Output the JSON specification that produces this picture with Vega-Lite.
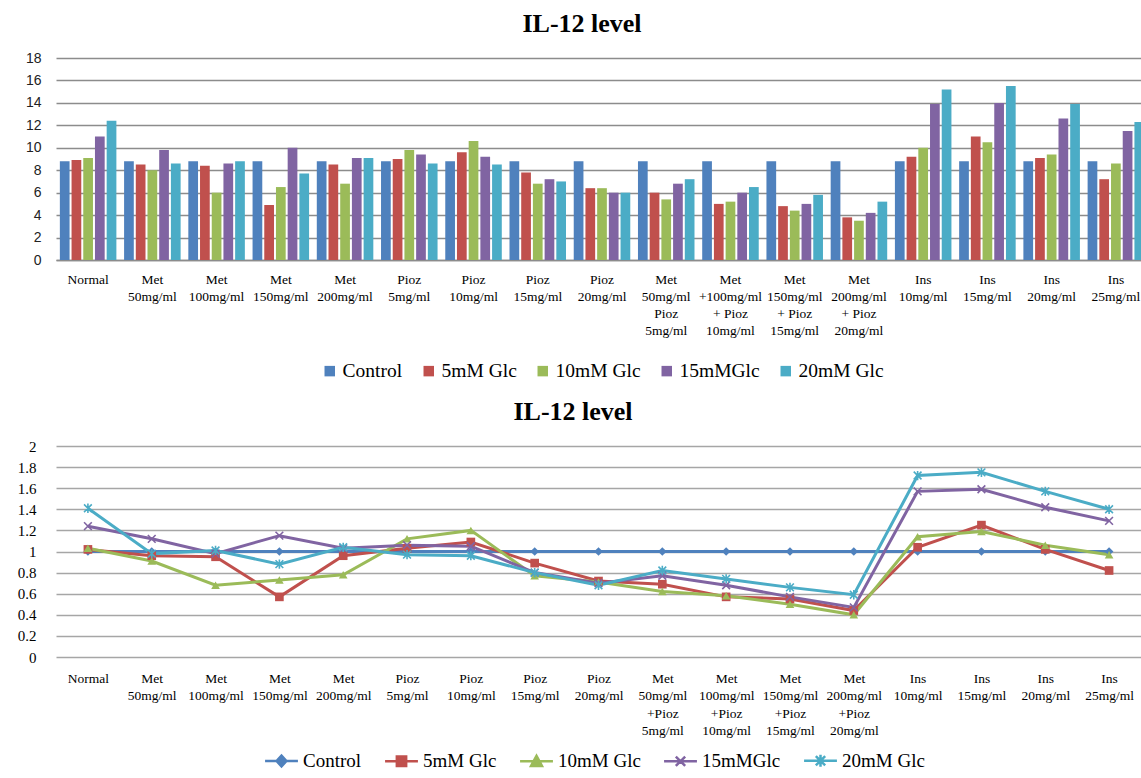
{
  "$schema": "https://vega.github.io/schema/vega-lite/v6.json",
  "padding": {"left": 5, "top": 11, "right": 0, "bottom": 0},
  "background": "white",
  "spacing": 18,
  "config": {
    "view": {"stroke": null},
    "font": "Liberation Serif",
    "title": {"font": "Liberation Serif", "fontSize": 26, "fontWeight": "bold", "color": "black"},
    "legend": {"layout": {"bottom": {"anchor": "middle"}}}
  },
  "resolve": {
    "scale": {"x": "independent", "y": "independent", "color": "independent", "stroke": "independent"},
    "legend": {"color": "independent", "stroke": "independent"}
  },
  "datasets": {
    "bars": [
      {"g": "Normal", "s": "Control", "v": 8.8}, {"g": "Normal", "s": "5mM Glc", "v": 8.9}, {"g": "Normal", "s": "10mM Glc", "v": 9.1}, {"g": "Normal", "s": "15mMGlc", "v": 11.0}, {"g": "Normal", "s": "20mM Glc", "v": 12.4},
      {"g": "Met|50mg/ml", "s": "Control", "v": 8.8}, {"g": "Met|50mg/ml", "s": "5mM Glc", "v": 8.5}, {"g": "Met|50mg/ml", "s": "10mM Glc", "v": 8.0}, {"g": "Met|50mg/ml", "s": "15mMGlc", "v": 9.8}, {"g": "Met|50mg/ml", "s": "20mM Glc", "v": 8.6},
      {"g": "Met|100mg/ml", "s": "Control", "v": 8.8}, {"g": "Met|100mg/ml", "s": "5mM Glc", "v": 8.4}, {"g": "Met|100mg/ml", "s": "10mM Glc", "v": 6.0}, {"g": "Met|100mg/ml", "s": "15mMGlc", "v": 8.6}, {"g": "Met|100mg/ml", "s": "20mM Glc", "v": 8.8},
      {"g": "Met|150mg/ml", "s": "Control", "v": 8.8}, {"g": "Met|150mg/ml", "s": "5mM Glc", "v": 4.9}, {"g": "Met|150mg/ml", "s": "10mM Glc", "v": 6.5}, {"g": "Met|150mg/ml", "s": "15mMGlc", "v": 10.0}, {"g": "Met|150mg/ml", "s": "20mM Glc", "v": 7.7},
      {"g": "Met|200mg/ml", "s": "Control", "v": 8.8}, {"g": "Met|200mg/ml", "s": "5mM Glc", "v": 8.5}, {"g": "Met|200mg/ml", "s": "10mM Glc", "v": 6.8}, {"g": "Met|200mg/ml", "s": "15mMGlc", "v": 9.1}, {"g": "Met|200mg/ml", "s": "20mM Glc", "v": 9.1},
      {"g": "Pioz|5mg/ml", "s": "Control", "v": 8.8}, {"g": "Pioz|5mg/ml", "s": "5mM Glc", "v": 9.0}, {"g": "Pioz|5mg/ml", "s": "10mM Glc", "v": 9.8}, {"g": "Pioz|5mg/ml", "s": "15mMGlc", "v": 9.4}, {"g": "Pioz|5mg/ml", "s": "20mM Glc", "v": 8.6},
      {"g": "Pioz|10mg/ml", "s": "Control", "v": 8.8}, {"g": "Pioz|10mg/ml", "s": "5mM Glc", "v": 9.6}, {"g": "Pioz|10mg/ml", "s": "10mM Glc", "v": 10.6}, {"g": "Pioz|10mg/ml", "s": "15mMGlc", "v": 9.2}, {"g": "Pioz|10mg/ml", "s": "20mM Glc", "v": 8.5},
      {"g": "Pioz|15mg/ml", "s": "Control", "v": 8.8}, {"g": "Pioz|15mg/ml", "s": "5mM Glc", "v": 7.8}, {"g": "Pioz|15mg/ml", "s": "10mM Glc", "v": 6.8}, {"g": "Pioz|15mg/ml", "s": "15mMGlc", "v": 7.2}, {"g": "Pioz|15mg/ml", "s": "20mM Glc", "v": 7.0},
      {"g": "Pioz|20mg/ml", "s": "Control", "v": 8.8}, {"g": "Pioz|20mg/ml", "s": "5mM Glc", "v": 6.4}, {"g": "Pioz|20mg/ml", "s": "10mM Glc", "v": 6.4}, {"g": "Pioz|20mg/ml", "s": "15mMGlc", "v": 6.0}, {"g": "Pioz|20mg/ml", "s": "20mM Glc", "v": 6.0},
      {"g": "Met|50mg/ml|Pioz|5mg/ml", "s": "Control", "v": 8.8}, {"g": "Met|50mg/ml|Pioz|5mg/ml", "s": "5mM Glc", "v": 6.0}, {"g": "Met|50mg/ml|Pioz|5mg/ml", "s": "10mM Glc", "v": 5.4}, {"g": "Met|50mg/ml|Pioz|5mg/ml", "s": "15mMGlc", "v": 6.8}, {"g": "Met|50mg/ml|Pioz|5mg/ml", "s": "20mM Glc", "v": 7.2},
      {"g": "Met|+100mg/ml|+ Pioz|10mg/ml", "s": "Control", "v": 8.8}, {"g": "Met|+100mg/ml|+ Pioz|10mg/ml", "s": "5mM Glc", "v": 5.0}, {"g": "Met|+100mg/ml|+ Pioz|10mg/ml", "s": "10mM Glc", "v": 5.2}, {"g": "Met|+100mg/ml|+ Pioz|10mg/ml", "s": "15mMGlc", "v": 6.0}, {"g": "Met|+100mg/ml|+ Pioz|10mg/ml", "s": "20mM Glc", "v": 6.5},
      {"g": "Met|150mg/ml|+ Pioz|15mg/ml", "s": "Control", "v": 8.8}, {"g": "Met|150mg/ml|+ Pioz|15mg/ml", "s": "5mM Glc", "v": 4.8}, {"g": "Met|150mg/ml|+ Pioz|15mg/ml", "s": "10mM Glc", "v": 4.4}, {"g": "Met|150mg/ml|+ Pioz|15mg/ml", "s": "15mMGlc", "v": 5.0}, {"g": "Met|150mg/ml|+ Pioz|15mg/ml", "s": "20mM Glc", "v": 5.8},
      {"g": "Met|200mg/ml|+ Pioz|20mg/ml", "s": "Control", "v": 8.8}, {"g": "Met|200mg/ml|+ Pioz|20mg/ml", "s": "5mM Glc", "v": 3.8}, {"g": "Met|200mg/ml|+ Pioz|20mg/ml", "s": "10mM Glc", "v": 3.5}, {"g": "Met|200mg/ml|+ Pioz|20mg/ml", "s": "15mMGlc", "v": 4.2}, {"g": "Met|200mg/ml|+ Pioz|20mg/ml", "s": "20mM Glc", "v": 5.2},
      {"g": "Ins|10mg/ml", "s": "Control", "v": 8.8}, {"g": "Ins|10mg/ml", "s": "5mM Glc", "v": 9.2}, {"g": "Ins|10mg/ml", "s": "10mM Glc", "v": 10.0}, {"g": "Ins|10mg/ml", "s": "15mMGlc", "v": 13.9}, {"g": "Ins|10mg/ml", "s": "20mM Glc", "v": 15.2},
      {"g": "Ins|15mg/ml", "s": "Control", "v": 8.8}, {"g": "Ins|15mg/ml", "s": "5mM Glc", "v": 11.0}, {"g": "Ins|15mg/ml", "s": "10mM Glc", "v": 10.5}, {"g": "Ins|15mg/ml", "s": "15mMGlc", "v": 14.0}, {"g": "Ins|15mg/ml", "s": "20mM Glc", "v": 15.5},
      {"g": "Ins|20mg/ml", "s": "Control", "v": 8.8}, {"g": "Ins|20mg/ml", "s": "5mM Glc", "v": 9.1}, {"g": "Ins|20mg/ml", "s": "10mM Glc", "v": 9.4}, {"g": "Ins|20mg/ml", "s": "15mMGlc", "v": 12.6}, {"g": "Ins|20mg/ml", "s": "20mM Glc", "v": 13.9},
      {"g": "Ins|25mg/ml", "s": "Control", "v": 8.8}, {"g": "Ins|25mg/ml", "s": "5mM Glc", "v": 7.2}, {"g": "Ins|25mg/ml", "s": "10mM Glc", "v": 8.6}, {"g": "Ins|25mg/ml", "s": "15mMGlc", "v": 11.5}, {"g": "Ins|25mg/ml", "s": "20mM Glc", "v": 12.3}
    ],
    "lines": [
      {"g": "Normal", "s": "Control", "v": 1.0}, {"g": "Normal", "s": "5mM Glc", "v": 1.02}, {"g": "Normal", "s": "10mM Glc", "v": 1.03}, {"g": "Normal", "s": "15mMGlc", "v": 1.24}, {"g": "Normal", "s": "20mM Glc", "v": 1.41},
      {"g": "Met|50mg/ml", "s": "Control", "v": 1.0}, {"g": "Met|50mg/ml", "s": "5mM Glc", "v": 0.96}, {"g": "Met|50mg/ml", "s": "10mM Glc", "v": 0.91}, {"g": "Met|50mg/ml", "s": "15mMGlc", "v": 1.12}, {"g": "Met|50mg/ml", "s": "20mM Glc", "v": 0.98},
      {"g": "Met|100mg/ml", "s": "Control", "v": 1.0}, {"g": "Met|100mg/ml", "s": "5mM Glc", "v": 0.95}, {"g": "Met|100mg/ml", "s": "10mM Glc", "v": 0.68}, {"g": "Met|100mg/ml", "s": "15mMGlc", "v": 0.98}, {"g": "Met|100mg/ml", "s": "20mM Glc", "v": 1.01},
      {"g": "Met|150mg/ml", "s": "Control", "v": 1.0}, {"g": "Met|150mg/ml", "s": "5mM Glc", "v": 0.57}, {"g": "Met|150mg/ml", "s": "10mM Glc", "v": 0.73}, {"g": "Met|150mg/ml", "s": "15mMGlc", "v": 1.15}, {"g": "Met|150mg/ml", "s": "20mM Glc", "v": 0.88},
      {"g": "Met|200mg/ml", "s": "Control", "v": 1.0}, {"g": "Met|200mg/ml", "s": "5mM Glc", "v": 0.96}, {"g": "Met|200mg/ml", "s": "10mM Glc", "v": 0.78}, {"g": "Met|200mg/ml", "s": "15mMGlc", "v": 1.03}, {"g": "Met|200mg/ml", "s": "20mM Glc", "v": 1.04},
      {"g": "Pioz|5mg/ml", "s": "Control", "v": 1.0}, {"g": "Pioz|5mg/ml", "s": "5mM Glc", "v": 1.03}, {"g": "Pioz|5mg/ml", "s": "10mM Glc", "v": 1.12}, {"g": "Pioz|5mg/ml", "s": "15mMGlc", "v": 1.06}, {"g": "Pioz|5mg/ml", "s": "20mM Glc", "v": 0.97},
      {"g": "Pioz|10mg/ml", "s": "Control", "v": 1.0}, {"g": "Pioz|10mg/ml", "s": "5mM Glc", "v": 1.09}, {"g": "Pioz|10mg/ml", "s": "10mM Glc", "v": 1.2}, {"g": "Pioz|10mg/ml", "s": "15mMGlc", "v": 1.05}, {"g": "Pioz|10mg/ml", "s": "20mM Glc", "v": 0.96},
      {"g": "Pioz|15mg/ml", "s": "Control", "v": 1.0}, {"g": "Pioz|15mg/ml", "s": "5mM Glc", "v": 0.89}, {"g": "Pioz|15mg/ml", "s": "10mM Glc", "v": 0.77}, {"g": "Pioz|15mg/ml", "s": "15mMGlc", "v": 0.8}, {"g": "Pioz|15mg/ml", "s": "20mM Glc", "v": 0.8},
      {"g": "Pioz|20mg/ml", "s": "Control", "v": 1.0}, {"g": "Pioz|20mg/ml", "s": "5mM Glc", "v": 0.72}, {"g": "Pioz|20mg/ml", "s": "10mM Glc", "v": 0.71}, {"g": "Pioz|20mg/ml", "s": "15mMGlc", "v": 0.7}, {"g": "Pioz|20mg/ml", "s": "20mM Glc", "v": 0.68},
      {"g": "Met|50mg/ml|+Pioz|5mg/ml", "s": "Control", "v": 1.0}, {"g": "Met|50mg/ml|+Pioz|5mg/ml", "s": "5mM Glc", "v": 0.69}, {"g": "Met|50mg/ml|+Pioz|5mg/ml", "s": "10mM Glc", "v": 0.62}, {"g": "Met|50mg/ml|+Pioz|5mg/ml", "s": "15mMGlc", "v": 0.77}, {"g": "Met|50mg/ml|+Pioz|5mg/ml", "s": "20mM Glc", "v": 0.82},
      {"g": "Met|100mg/ml|+Pioz|10mg/ml", "s": "Control", "v": 1.0}, {"g": "Met|100mg/ml|+Pioz|10mg/ml", "s": "5mM Glc", "v": 0.57}, {"g": "Met|100mg/ml|+Pioz|10mg/ml", "s": "10mM Glc", "v": 0.58}, {"g": "Met|100mg/ml|+Pioz|10mg/ml", "s": "15mMGlc", "v": 0.68}, {"g": "Met|100mg/ml|+Pioz|10mg/ml", "s": "20mM Glc", "v": 0.74},
      {"g": "Met|150mg/ml|+Pioz|15mg/ml", "s": "Control", "v": 1.0}, {"g": "Met|150mg/ml|+Pioz|15mg/ml", "s": "5mM Glc", "v": 0.55}, {"g": "Met|150mg/ml|+Pioz|15mg/ml", "s": "10mM Glc", "v": 0.5}, {"g": "Met|150mg/ml|+Pioz|15mg/ml", "s": "15mMGlc", "v": 0.57}, {"g": "Met|150mg/ml|+Pioz|15mg/ml", "s": "20mM Glc", "v": 0.66},
      {"g": "Met|200mg/ml|+Pioz|20mg/ml", "s": "Control", "v": 1.0}, {"g": "Met|200mg/ml|+Pioz|20mg/ml", "s": "5mM Glc", "v": 0.44}, {"g": "Met|200mg/ml|+Pioz|20mg/ml", "s": "10mM Glc", "v": 0.4}, {"g": "Met|200mg/ml|+Pioz|20mg/ml", "s": "15mMGlc", "v": 0.47}, {"g": "Met|200mg/ml|+Pioz|20mg/ml", "s": "20mM Glc", "v": 0.59},
      {"g": "Ins|10mg/ml", "s": "Control", "v": 1.0}, {"g": "Ins|10mg/ml", "s": "5mM Glc", "v": 1.04}, {"g": "Ins|10mg/ml", "s": "10mM Glc", "v": 1.14}, {"g": "Ins|10mg/ml", "s": "15mMGlc", "v": 1.57}, {"g": "Ins|10mg/ml", "s": "20mM Glc", "v": 1.72},
      {"g": "Ins|15mg/ml", "s": "Control", "v": 1.0}, {"g": "Ins|15mg/ml", "s": "5mM Glc", "v": 1.25}, {"g": "Ins|15mg/ml", "s": "10mM Glc", "v": 1.19}, {"g": "Ins|15mg/ml", "s": "15mMGlc", "v": 1.59}, {"g": "Ins|15mg/ml", "s": "20mM Glc", "v": 1.75},
      {"g": "Ins|20mg/ml", "s": "Control", "v": 1.0}, {"g": "Ins|20mg/ml", "s": "5mM Glc", "v": 1.02}, {"g": "Ins|20mg/ml", "s": "10mM Glc", "v": 1.06}, {"g": "Ins|20mg/ml", "s": "15mMGlc", "v": 1.42}, {"g": "Ins|20mg/ml", "s": "20mM Glc", "v": 1.57},
      {"g": "Ins|25mg/ml", "s": "Control", "v": 1.0}, {"g": "Ins|25mg/ml", "s": "5mM Glc", "v": 0.82}, {"g": "Ins|25mg/ml", "s": "10mM Glc", "v": 0.97}, {"g": "Ins|25mg/ml", "s": "15mMGlc", "v": 1.29}, {"g": "Ins|25mg/ml", "s": "20mM Glc", "v": 1.4}
    ]
  },
  "vconcat": [
    {
      "title": {"text": "IL-12 level", "anchor": "middle", "frame": "bounds", "offset": 14},
      "width": 1092,
      "height": 202,
      "data": {"name": "bars"},
      "mark": {"type": "bar"},
      "encoding": {
        "x": {
          "field": "g", "type": "nominal", "sort": null,
          "scale": {"paddingInner": 0.12, "paddingOuter": 0.06},
          "axis": {"title": null, "labelAngle": 0, "labelExpr": "split(datum.label, '|')", "labelFont": "Liberation Serif", "labelFontSize": 13.5, "labelLineHeight": 17, "labelColor": "black", "labelBaseline": "top", "ticks": false, "domainColor": "#8c8c8c", "domainWidth": 1.5, "labelPadding": 12, "labelLimit": 0}
        },
        "xOffset": {"field": "s", "type": "nominal", "sort": null, "scale": {"paddingInner": 0.17, "paddingOuter": 0}},
        "y": {
          "field": "v", "type": "quantitative",
          "scale": {"domain": [0, 18]},
          "axis": {"title": null, "values": [0, 2, 4, 6, 8, 10, 12, 14, 16, 18], "domain": false, "ticks": false, "labelFont": "Liberation Sans", "labelFontSize": 14, "labelColor": "#222222", "gridColor": "#8c8c8c", "gridWidth": 1.3, "labelPadding": 15, "minExtent": 40, "maxExtent": 40}
        },
        "color": {
          "field": "s", "type": "nominal", "sort": null,
          "scale": {"domain": ["Control", "5mM Glc", "10mM Glc", "15mMGlc", "20mM Glc"], "range": ["#4F81BD", "#C0504D", "#9BBB59", "#8064A2", "#4BACC6"]},
          "legend": {"title": null, "orient": "bottom", "direction": "horizontal", "offset": 24, "symbolType": "square", "symbolSize": 110, "labelFont": "Liberation Serif", "labelFontSize": 19.5, "labelColor": "black", "columnPadding": 16, "labelOffset": 3}
        }
      }
    },
    {
      "title": {"text": "IL-12 level", "anchor": "middle", "frame": "bounds", "offset": 14},
      "width": 1085,
      "height": 211,
      "data": {"name": "lines"},
      "encoding": {
        "x": {
          "field": "g", "type": "nominal", "sort": null,
          "scale": {"type": "point", "padding": 0.5},
          "axis": {"title": null, "labelAngle": 0, "labelExpr": "split(datum.label, '|')", "labelFont": "Liberation Serif", "labelFontSize": 13.5, "labelLineHeight": 17.5, "labelColor": "black", "labelBaseline": "top", "ticks": false, "domain": false, "labelPadding": 14, "labelLimit": 0}
        },
        "y": {
          "field": "v", "type": "quantitative",
          "scale": {"domain": [0, 2]},
          "axis": {"title": null, "values": [0, 0.2, 0.4, 0.6, 0.8, 1, 1.2, 1.4, 1.6, 1.8, 2], "format": "~g", "domain": false, "ticks": false, "labelFont": "Liberation Serif", "labelFontSize": 15, "labelColor": "black", "gridColor": "#a6a6a6", "gridWidth": 1.5, "labelPadding": 20, "minExtent": 51, "maxExtent": 51}
        }
      },
      "layer": [
        {
          "mark": {"type": "line", "strokeWidth": 3},
          "encoding": {
            "order": {"value": null},
            "stroke": {
              "field": "s", "type": "nominal", "sort": null,
              "scale": {"domain": ["Control", "5mM Glc", "10mM Glc", "15mMGlc", "20mM Glc"], "range": ["#4F81BD", "#C0504D", "#9BBB59", "#8064A2", "#4BACC6"]},
              "legend": {
                "title": null, "orient": "bottom", "direction": "horizontal", "offset": 14, "symbolSize": 120, "symbolStrokeWidth": 2.5, "labelFont": "Liberation Serif", "labelFontSize": 19, "labelColor": "black", "columnPadding": 18, "labelOffset": 12,
                "encode": {"symbols": {"update": {
                  "shape": {"signal": "datum.value === 'Control' ? 'M-3,0L3,0M0,-1L0.9,0L0,1L-0.9,0Z' : datum.value === '5mM Glc' ? 'M-3,0L3,0M-0.85,-0.85L0.85,-0.85L0.85,0.85L-0.85,0.85Z' : datum.value === '10mM Glc' ? 'M-3,0L3,0M0,-1L1,0.85L-1,0.85Z' : datum.value === '15mMGlc' ? 'M-3,0L3,0M-0.85,-0.85L0.85,0.85M-0.85,0.85L0.85,-0.85' : 'M-3,0L3,0M-0.85,-0.85L0.85,0.85M-0.85,0.85L0.85,-0.85M0,-1.1L0,1.1'"},
                  "fill": {"signal": "datum.value === 'Control' ? '#4F81BD' : datum.value === '5mM Glc' ? '#C0504D' : datum.value === '10mM Glc' ? '#9BBB59' : datum.value === '15mMGlc' ? '#8064A2' : '#4BACC6'"}
                }}}
              }
            }
          }
        },
        {
          "transform": [{"filter": "datum.s === 'Control'"}],
          "mark": {"type": "point", "shape": "diamond", "filled": true, "size": 75, "color": "#4F81BD", "opacity": 1}
        },
        {
          "transform": [{"filter": "datum.s === '5mM Glc'"}],
          "mark": {"type": "point", "shape": "square", "filled": true, "size": 75, "color": "#C0504D", "opacity": 1}
        },
        {
          "transform": [{"filter": "datum.s === '10mM Glc'"}],
          "mark": {"type": "point", "shape": "triangle-up", "filled": true, "size": 75, "color": "#9BBB59", "opacity": 1}
        },
        {
          "transform": [{"filter": "datum.s === '15mMGlc'"}],
          "mark": {"type": "point", "shape": "M-1,-1L1,1M-1,1L1,-1", "filled": false, "size": 60, "strokeWidth": 1.6, "color": "#8064A2", "opacity": 1}
        },
        {
          "transform": [{"filter": "datum.s === '20mM Glc'"}],
          "mark": {"type": "point", "shape": "M-1,-1L1,1M-1,1L1,-1M0,-1.2L0,1.2", "filled": false, "size": 60, "strokeWidth": 1.6, "color": "#4BACC6", "opacity": 1}
        }
      ]
    }
  ]
}
